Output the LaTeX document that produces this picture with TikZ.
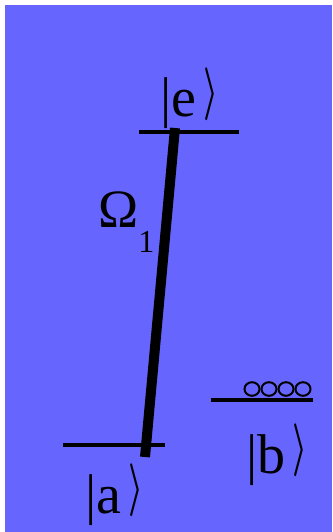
\documentclass[tikz,border=0pt]{standalone}
\usepackage{fontspec}
\setmainfont{Liberation Serif}
\usepackage{xcolor}
\usetikzlibrary{positioning}
\definecolor{bgblue}{HTML}{6666FF}

\tikzset{
  level/.style={line width=4pt},
  pump/.style={line width=10pt},
  ket/.style={inner sep=0pt, anchor=base west, font=\fontsize{56}{56}\selectfont},
  bead/.style={line width=2pt}
}
\newcommand{\kt}[1]{\textbar#1\hspace{7pt}\raisebox{-4pt}{\resizebox*{15pt}{53pt}{\raisebox{\depth}{\boldmath$\rangle$}}}}

\begin{document}
\begin{tikzpicture}[x=1pt,y=-1pt]
  \useasboundingbox (0,0) rectangle (332,532);
  \fill[white] (0,0) rectangle (332,532);
  \fill[bgblue] (5,5) rectangle (332,532);

  % levels
  \coordinate (eL) at (139,132);
  \coordinate (eR) at (239,132);
  \coordinate (aL) at (63,445);
  \coordinate (aR) at (165,445);
  \coordinate (bL) at (211,400);
  \coordinate (bR) at (313,400);
  \draw[level] (eL) -- (eR);
  \draw[level] (aL) -- (aR);
  \draw[level] (bL) -- (bR);

  % coupling
  \coordinate (top) at (175,128);
  \coordinate (bot) at (145,457);
  \draw[pump] (top) -- (bot);

  % atoms in b
  \foreach \i in {0,...,3}
    \draw[bead] (252+17*\i,389) ellipse [x radius=7.5, y radius=6.8];

  \node[ket] (ke) at (160,117) {\kt{e}};
  \node[ket] (ka) at (85,513) {\kt{a}};
  \node[ket] (kb) at (246,473) {\kt{b}};
  \node[ket, font=\fontsize{54}{54}\selectfont] (om) at (98,227)
    {Ω\raisebox{-25pt}{\fontsize{32}{32}\selectfont 1}};
\end{tikzpicture}
\end{document}
